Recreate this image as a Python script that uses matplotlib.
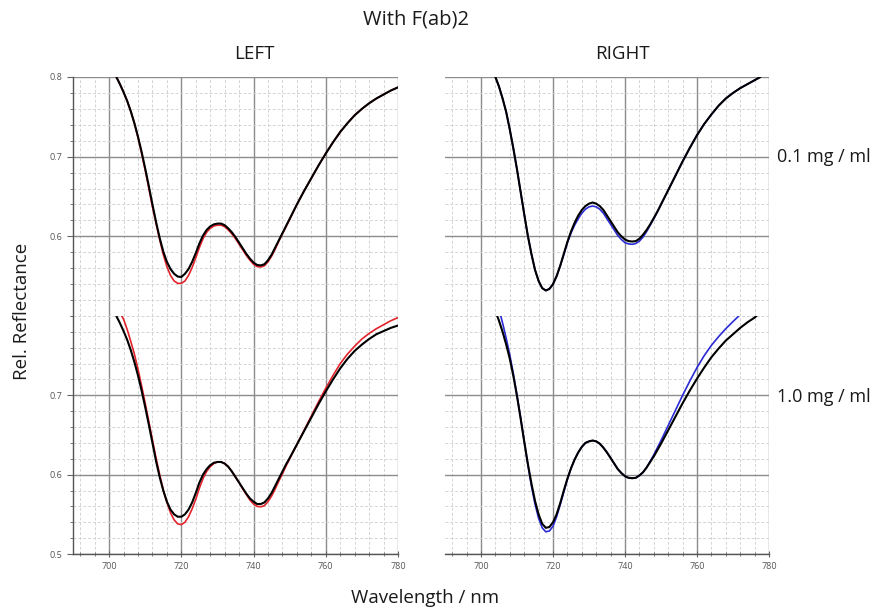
import matplotlib
matplotlib.use("Agg")
import matplotlib.pyplot as plt
from matplotlib.ticker import MultipleLocator

plt.rcParams['font.family'] = ['Open Sans', 'DejaVu Sans']

# ---------------- data ----------------
# Top-left (0.1 mg/ml, LEFT)
tl_wl = list(range(702, 751)) + list(range(752, 781, 2))
tl_k_val = [0.800, 0.791, 0.781, 0.770, 0.757, 0.742, 0.725, 0.706, 0.685, 0.663,   # 702-711
            0.640, 0.618, 0.598, 0.581, 0.568, 0.559, 0.553, 0.5495, 0.549, 0.553,   # 712-721
            0.559, 0.568, 0.579, 0.591, 0.601, 0.608, 0.6125, 0.615, 0.616, 0.616,   # 722-731
            0.614, 0.610, 0.605, 0.599, 0.592, 0.585, 0.578, 0.572, 0.567, 0.564,    # 732-741
            0.5635, 0.565, 0.570, 0.577, 0.586, 0.595, 0.604, 0.613, 0.622,          # 742-750
            0.640, 0.657, 0.673, 0.689, 0.704, 0.718, 0.731, 0.742, 0.752, 0.760,    # 752-770
            0.767, 0.773, 0.778, 0.783, 0.787]                                       # 772-780
tl_r_val = [0.800, 0.791, 0.781, 0.770, 0.757, 0.742, 0.724, 0.704, 0.683, 0.660,
            0.637, 0.616, 0.596, 0.577, 0.562, 0.551, 0.544, 0.541, 0.541, 0.544,
            0.551, 0.561, 0.573, 0.586, 0.597, 0.605, 0.610, 0.613, 0.614, 0.614,
            0.612, 0.608, 0.603, 0.597, 0.590, 0.583, 0.576, 0.570, 0.565, 0.562,
            0.5615, 0.563, 0.568, 0.575, 0.584, 0.594, 0.603, 0.612, 0.621,
            0.640, 0.657, 0.673, 0.689, 0.704, 0.718, 0.731, 0.742, 0.752, 0.760,
            0.767, 0.773, 0.778, 0.783, 0.787]

# Bottom-left (1.0 mg/ml, LEFT)
bl_k_wl = list(range(702, 751)) + list(range(752, 781, 2))
bl_k_val = [0.800, 0.791, 0.781, 0.770, 0.757, 0.742, 0.725, 0.706, 0.685, 0.663,
            0.640, 0.617, 0.597, 0.580, 0.566, 0.556, 0.550, 0.547, 0.547, 0.550,
            0.556, 0.565, 0.577, 0.590, 0.600, 0.607, 0.612, 0.615, 0.616, 0.616,
            0.614, 0.610, 0.604, 0.597, 0.590, 0.583, 0.576, 0.570, 0.566, 0.563,
            0.563, 0.565, 0.570, 0.577, 0.586, 0.595, 0.604, 0.613, 0.621,
            0.638, 0.655, 0.672, 0.689, 0.705, 0.720, 0.734, 0.746, 0.756, 0.764,
            0.771, 0.777, 0.781, 0.785, 0.788]
bl_r_wl = [703.5] + list(range(704, 751)) + list(range(752, 781, 2))
bl_r_val = [0.800, 0.796, 0.783, 0.768, 0.752, 0.733, 0.712, 0.690, 0.667, 0.644,   # 703.5-712
            0.621, 0.600, 0.581, 0.565, 0.552, 0.543, 0.538, 0.537, 0.540, 0.547,   # 713-722
            0.557, 0.569, 0.583, 0.595, 0.604, 0.610, 0.614, 0.616, 0.616, 0.614,   # 723-732
            0.610, 0.604, 0.597, 0.590, 0.582, 0.575, 0.568, 0.563, 0.560, 0.5595,  # 733-742
            0.561, 0.566, 0.573, 0.582, 0.592, 0.601, 0.611, 0.620,                 # 743-750
            0.638, 0.656, 0.674, 0.692, 0.709, 0.725, 0.740, 0.752, 0.762, 0.771,
            0.778, 0.784, 0.789, 0.794, 0.798]

# Top-right (0.1 mg/ml, RIGHT)
tr_wl = list(range(704, 751)) + list(range(752, 777, 2)) + [777.6]
tr_k_val = [0.800, 0.788, 0.773, 0.756, 0.734, 0.710, 0.684, 0.656, 0.628, 0.601,   # 704-713
            0.578, 0.558, 0.544, 0.535, 0.532, 0.534, 0.540, 0.550, 0.563, 0.578,   # 714-723
            0.593, 0.606, 0.617, 0.626, 0.633, 0.638, 0.641, 0.6425, 0.641, 0.638,  # 724-733
            0.633, 0.626, 0.619, 0.612, 0.605, 0.600, 0.596, 0.594, 0.5935, 0.594,  # 734-743
            0.597, 0.602, 0.608, 0.615, 0.623, 0.631, 0.640,                        # 744-750
            0.658, 0.676, 0.694, 0.711, 0.727, 0.741, 0.753, 0.764, 0.773, 0.780,
            0.786, 0.791, 0.796, 0.800]
tr_b_val = [0.800, 0.788, 0.773, 0.756, 0.734, 0.710, 0.684, 0.656, 0.628, 0.601,
            0.578, 0.558, 0.544, 0.535, 0.532, 0.534, 0.540, 0.550, 0.563, 0.577,
            0.592, 0.604, 0.614, 0.622, 0.629, 0.634, 0.637, 0.638, 0.637, 0.634,
            0.629, 0.622, 0.615, 0.608, 0.601, 0.596, 0.592, 0.5905, 0.590, 0.591,
            0.594, 0.599, 0.606, 0.614, 0.622, 0.631, 0.640,
            0.658, 0.676, 0.694, 0.711, 0.727, 0.741, 0.753, 0.764, 0.773, 0.780,
            0.786, 0.791, 0.796, 0.800]

# Bottom-right (1.0 mg/ml, RIGHT)
br_k_wl = [704.5] + list(range(705, 751)) + list(range(752, 777, 2)) + [776.5]
br_k_val = [0.800, 0.794, 0.780, 0.764, 0.746, 0.724, 0.699, 0.671, 0.642, 0.614,  # 704.5-713
            0.589, 0.567, 0.550, 0.538, 0.533, 0.534, 0.540, 0.550, 0.564, 0.580,  # 714-723
            0.595, 0.608, 0.619, 0.628, 0.635, 0.640, 0.642, 0.643, 0.642, 0.639,  # 724-733
            0.634, 0.628, 0.621, 0.614, 0.607, 0.602, 0.598, 0.596, 0.5955, 0.596, # 734-743
            0.599, 0.603, 0.609, 0.616, 0.623, 0.631, 0.639,                       # 744-750
            0.656, 0.673, 0.690, 0.706, 0.721, 0.735, 0.748, 0.759, 0.769, 0.777,
            0.785, 0.792, 0.798, 0.800]
br_b_wl = [705.5] + list(range(706, 751)) + list(range(752, 771, 2)) + [771.6]
br_b_val = [0.800, 0.791, 0.772, 0.751, 0.727, 0.700, 0.672, 0.642, 0.613,        # 705.5-713
            0.586, 0.563, 0.545, 0.533, 0.528, 0.529, 0.535, 0.547, 0.562, 0.578,  # 714-723
            0.594, 0.608, 0.619, 0.628, 0.635, 0.640, 0.642, 0.643, 0.642, 0.639,  # 724-733
            0.634, 0.628, 0.621, 0.614, 0.607, 0.602, 0.598, 0.596, 0.5955, 0.596, # 734-743
            0.599, 0.603, 0.609, 0.617, 0.625, 0.634, 0.643,                       # 744-750
            0.662, 0.681, 0.700, 0.718, 0.735, 0.750, 0.763, 0.774, 0.784, 0.793,
            0.800]

x_ticks = [700, 720, 740, 760, 780]
title = "With F(ab)2"
col_titles = ["LEFT", "RIGHT"]
row_labels = ["0.1 mg / ml", "1.0 mg / ml"]

# ---------------- figure ----------------
W, H = 879, 614
fig = plt.figure(figsize=(W / 100, H / 100), dpi=100)


def fx(px):
    return px / W


def fy(py):
    return 1 - py / H


panel_x = [(73, 398), (445, 769)]
panel_y = [(77, 316), (316, 554)]

RED = '#e3232c'
BLUE = '#2b2bd6'
TICKC = '#666666'

axes = {}
for r in range(2):
    for c in range(2):
        x0, x1 = panel_x[c]
        y0, y1 = panel_y[r]
        ax = fig.add_axes([fx(x0), fy(y1), fx(x1 - x0), (y1 - y0) / H])
        ax.set_xlim(690, 780)
        ax.set_ylim(0.5, 0.8)
        ax.set_facecolor('none')
        for s in ['top', 'right']:
            ax.spines[s].set_visible(False)
        ax.xaxis.set_major_locator(MultipleLocator(20))
        ax.xaxis.set_minor_locator(MultipleLocator(4))
        ax.yaxis.set_major_locator(MultipleLocator(0.1))
        ax.yaxis.set_minor_locator(MultipleLocator(0.02))
        ax.grid(which='minor', color='#d4d4d4', linestyle=(0, (3, 2)), linewidth=0.7)
        ax.grid(which='major', color='#8c8c8c', linestyle='-', linewidth=1.0)
        ax.set_axisbelow(True)
        ax.tick_params(which='both', colors=TICKC, labelsize=6.5, labelcolor='#555555')
        ax.tick_params(axis='y', which='major', length=4, direction='out', width=0.8)
        ax.tick_params(axis='y', which='minor', length=2.5, direction='out', width=0.6)
        ax.tick_params(axis='x', which='major', length=5, direction='inout', width=0.8)
        ax.tick_params(axis='x', which='minor', length=3.5, direction='inout', width=0.6)
        for s in ['left', 'bottom']:
            ax.spines[s].set_color('#555555')
            ax.spines[s].set_linewidth(1.0)
        if r == 0:
            ax.spines['bottom'].set_visible(False)
            ax.tick_params(axis='x', which='both', bottom=False, labelbottom=False)
            ax.set_yticks([0.6, 0.7, 0.8])
            ax.set_yticklabels(['0.6', '0.7', '0.8'])
        else:
            ax.set_xticks(x_ticks)
            ax.set_xticklabels([str(v) for v in x_ticks])
            ax.set_yticks([0.5, 0.6, 0.7])
            ax.set_yticklabels(['0.5', '0.6', '0.7'])
        if c == 1:
            ax.spines['left'].set_visible(False)
            ax.tick_params(axis='y', which='both', left=False, labelleft=False)
        axes[(r, c)] = ax

lw_c = 1.2
lw_k = 1.5
kw = dict(solid_joinstyle='round', solid_capstyle='round')
axes[(0, 0)].plot(tl_wl, tl_r_val, color=RED, lw=lw_c, **kw)
axes[(0, 0)].plot(tl_wl, tl_k_val, color='black', lw=lw_k, **kw)
axes[(1, 0)].plot(bl_r_wl, bl_r_val, color=RED, lw=lw_c, **kw)
axes[(1, 0)].plot(bl_k_wl, bl_k_val, color='black', lw=lw_k, **kw)
axes[(0, 1)].plot(tr_wl, tr_b_val, color=BLUE, lw=lw_c, **kw)
axes[(0, 1)].plot(tr_wl, tr_k_val, color='black', lw=lw_k, **kw)
axes[(1, 1)].plot(br_b_wl, br_b_val, color=BLUE, lw=lw_c, **kw)
axes[(1, 1)].plot(br_k_wl, br_k_val, color='black', lw=lw_k, **kw)

# texts
TXT = '#1a1a1a'
fig.text(fx(416), fy(20), title, ha='center', va='center', fontsize=14.5, color=TXT)
fig.text(fx(254), fy(54), col_titles[0], ha='center', va='center', fontsize=13.5, color=TXT)
fig.text(fx(623), fy(54), col_titles[1], ha='center', va='center', fontsize=13.5, color=TXT)
fig.text(fx(777), fy(157), row_labels[0], ha='left', va='center', fontsize=13, color=TXT)
fig.text(fx(777), fy(397), row_labels[1], ha='left', va='center', fontsize=13, color=TXT)
fig.text(fx(22), fy(311), "Rel. Reflectance", ha='center', va='center', rotation=90, fontsize=13.5,
         color=TXT)
fig.text(fx(425), fy(598), "Wavelength / nm", ha='center', va='center', fontsize=13.5, color=TXT)

fig.savefig("out.png", dpi=100)
